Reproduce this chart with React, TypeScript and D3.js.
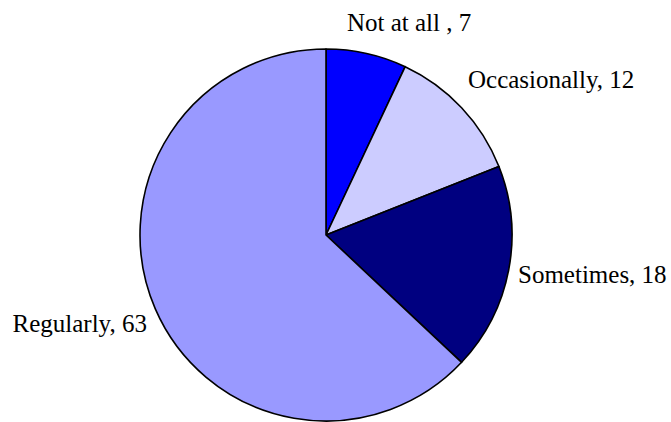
import React from "react";
import * as d3 from "d3";

const categories = ["Not at all", "Occasionally", "Sometimes", "Regularly"];
const values = [7, 12, 18, 63];
const labelTexts = ["Not at all , 7", "Occasionally, 12", "Sometimes, 18", "Regularly, 63"];
const colors = ["#0000FF", "#CCCCFF", "#000080", "#9999FF"];

// label layout offsets relative to the outer arc point at each slice's mid-angle
const labelLayout = [
  { dx: -19.6, dy: -22.5, anchor: "start" },
  { dx: 6.4, dy: -19.7, anchor: "start" },
  { dx: 9.3, dy: 13, anchor: "start" },
  { dx: -8.3, dy: 23, anchor: "end" },
];

const W = 671;
const H = 422;
const cx = 326;
const cy = 235;
const R = 186;

export default function App() {
  const pie = d3.pie<number>().sort(null).value((d) => d);
  const arcs = pie(values);
  const arc = d3.arc<d3.PieArcDatum<number>>().innerRadius(0).outerRadius(R);
  return (
    <svg
      width={W}
      height={H}
      style={{ position: "absolute", left: 0, top: 0, background: "#fff" }}
    >
      <g transform={`translate(${cx},${cy})`}>
        {arcs.map((a, i) => (
          <path
            key={categories[i]}
            d={arc(a) || ""}
            fill={colors[i]}
            stroke="#000"
            strokeWidth={1.6}
            strokeLinejoin="round"
          />
        ))}
        {arcs.map((a, i) => {
          const mid = (a.startAngle + a.endAngle) / 2;
          const x = Math.sin(mid) * R + labelLayout[i].dx;
          const y = -Math.cos(mid) * R + labelLayout[i].dy;
          return (
            <text
              key={"l" + i}
              x={x}
              y={y}
              textAnchor={labelLayout[i].anchor as any}
              fontFamily="'Liberation Serif', 'Times New Roman', serif"
              fontSize={25}
              fill="#000"
            >
              {labelTexts[i]}
            </text>
          );
        })}
      </g>
    </svg>
  );
}
